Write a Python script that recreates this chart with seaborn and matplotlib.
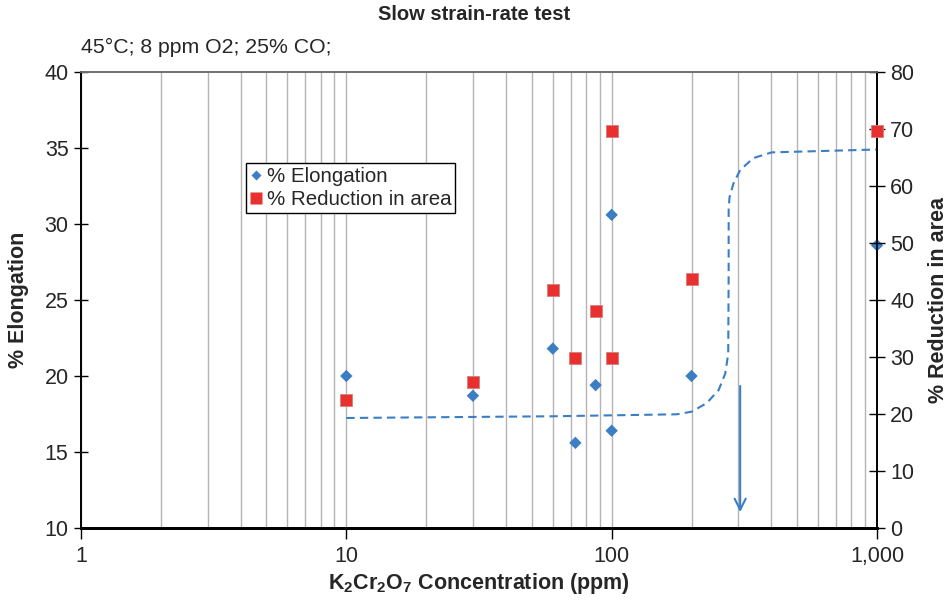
import numpy as np
import pandas as pd
import seaborn as sns
import matplotlib.pyplot as plt
from matplotlib.ticker import FixedLocator, FuncFormatter, NullFormatter
from matplotlib.lines import Line2D

sns.set_theme(style="white")
plt.rcParams['font.family'] = ['Liberation Sans', 'DejaVu Sans']
plt.rcParams['mathtext.fontset'] = 'custom'
plt.rcParams['mathtext.rm'] = 'Liberation Sans'
plt.rcParams['mathtext.bf'] = 'Liberation Sans:bold'

# data
conc = [10, 30, 60, 73, 87, 100, 100, 200, 1000]
elongation = [20.0, 18.7, 21.8, 15.6, 19.4, 30.6, 16.4, 20.0, 28.6]
reduction = [22.5, 25.6, 41.8, 29.8, 38.0, 69.7, 29.8, 43.7, 69.7]

# hand-drawn trend line (right axis units)
trend_x = [10, 60, 176, 200, 228, 253, 268, 275, 276, 276, 278, 288, 305, 342, 401, 1000]
trend_y = [19.3, 19.6, 19.95, 20.4, 21.9, 24.2, 27.1, 30.6, 45.0, 55.8, 58.0, 60.5, 62.8, 64.9, 65.9, 66.4]

arrow_x = 305
arrow_top, arrow_bottom = 25.4, 2.3

blue = '#3b7ec4'
red = '#e8302f'
fs = 15.5

fig = plt.figure(figsize=(9.48, 6.01), dpi=100)
ax = fig.add_axes([81/948, 1 - 528/601, (877 - 81)/948, (528 - 72)/601])
ax2 = ax.twinx()

ax.set_xscale('log')
ax.set_xlim(1, 1000)
ax.set_ylim(10, 40)
ax2.set_ylim(0, 80)

# vertical grid at every log step
ax.xaxis.set_minor_locator(FixedLocator([m * 10**d for d in range(0, 3) for m in range(2, 10)]))
ax.xaxis.set_minor_formatter(NullFormatter())
ax.xaxis.set_major_locator(FixedLocator([1, 10, 100, 1000]))
ax.xaxis.set_major_formatter(FuncFormatter(lambda v, p: f'{v:,.0f}'))
ax.grid(True, axis='x', which='both', color='#b4b4b4', lw=1)
ax.grid(False, axis='y')
ax.set_axisbelow(True)

df = pd.DataFrame({'conc': conc, 'elong': elongation, 'red': reduction})
sns.scatterplot(data=df, x='conc', y='elong', ax=ax, marker='D', s=40, color=blue,
                edgecolor='none', clip_on=False, zorder=3)
sns.scatterplot(data=df, x='conc', y='red', ax=ax2, marker='s', s=85, color=red,
                edgecolor='#d08080', linewidth=0.6, clip_on=False, zorder=4)

trend = pd.DataFrame({'x': trend_x, 'y': trend_y})
sns.lineplot(data=trend, x='x', y='y', ax=ax2, sort=False, estimator=None,
             color=blue, lw=1.5, ls=(0, (4, 2.5)), zorder=2)

ax2.annotate('', xy=(arrow_x, arrow_bottom), xytext=(arrow_x, arrow_top),
             arrowprops=dict(arrowstyle='->', color=blue, lw=1.5, mutation_scale=20))

ax.set_yticks(np.arange(10, 41, 5))
ax2.set_yticks(np.arange(0, 81, 10))
ax.tick_params(axis='y', labelsize=fs, direction='inout', length=10,
               color='black', width=1, left=True, pad=4)
ax.tick_params(axis='x', which='major', labelsize=fs, direction='out', length=8,
               color='black', width=1, bottom=True, pad=5)
ax.tick_params(axis='x', which='minor', length=0)
ax2.tick_params(axis='y', labelsize=fs, direction='inout', length=11, color='black',
                width=1, right=True, pad=4)

for a in (ax, ax2):
    for s in ['left', 'right', 'bottom']:
        a.spines[s].set_color('black')
        a.spines[s].set_linewidth(1.2)
    a.spines['top'].set_color('#707070')
    a.spines['top'].set_linewidth(1.2)
ax.spines['bottom'].set_linewidth(2)
ax2.spines['bottom'].set_linewidth(2)

ax.set_xlabel(r'K$_\mathbf{2}$Cr$_\mathbf{2}$O$_\mathbf{7}$ Concentration (ppm)',
              fontsize=fs, fontweight='bold')
ax.set_ylabel('% Elongation', fontsize=fs, fontweight='bold')
ax2.set_ylabel('% Reduction in area', fontsize=fs, fontweight='bold')
ax.xaxis.set_label_coords(0.5, -(583 - 528)/456)
ax.xaxis.label.set_va('center')
ax.yaxis.set_label_coords((19 - 81)/796, 0.5)
ax.yaxis.label.set_va('center')
ax2.yaxis.set_label_coords((939 - 81)/796, 0.5)
ax2.yaxis.label.set_va('center')

handles = [Line2D([], [], marker='D', ls='none', color=blue, ms=5, mec='none'),
           Line2D([], [], marker='s', ls='none', color=red, ms=9, mec='none')]
ax2.legend(handles, ['% Elongation', '% Reduction in area'], loc='upper left',
           bbox_to_anchor=((246 - 81)/796, 1 - (163 - 72)/456), fontsize=14.8,
           frameon=True, fancybox=False, edgecolor='black', framealpha=1,
           handlelength=0.6, handletextpad=0.2, borderpad=0.2, labelspacing=0.2,
           borderaxespad=0)
ax2.get_legend().get_frame().set_linewidth(1)

fig.text(474/948, 1 - 15/601, 'Slow strain-rate test', ha='center', va='center',
         fontsize=14.5, fontweight='bold')
fig.text(81/948, 1 - 47/601, '45\u00b0C; 8 ppm O2; 25% CO;', ha='left', va='center',
         fontsize=15.3)

fig.savefig('out.png', dpi=100)
